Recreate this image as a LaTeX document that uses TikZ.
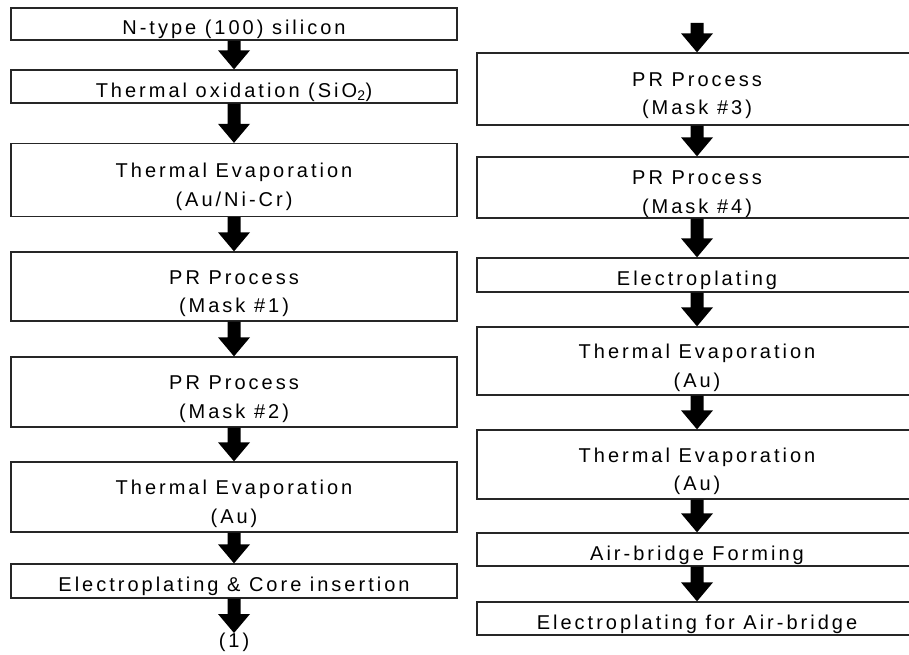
\documentclass[tikz,border=0pt]{standalone}
\usepackage{fontspec}
\setmainfont[LetterSpace=15]{Liberation Sans}
\usetikzlibrary{calc}
\tikzset{
  stepbox/.style={draw=black!85, line width=1.3pt, inner sep=0pt,
    font=\fontsize{20}{28}\selectfont},
  lbox/.style={stepbox, minimum width=446pt},
  rbox/.style={stepbox, minimum width=440pt},
  oneline/.style={text height=21.3pt, text depth=0pt},
  txt/.style={inner sep=0pt, font=\fontsize{20}{28}\selectfont, anchor=base},
  endlabel/.style={inner sep=0pt, font=\fontsize{20}{28}\selectfont},
}
\newcommand\blockarrow[2]{%
  \fill[black] let \p1=(#1), \p2=(#2) in
    (\x1-6.5pt,\y1) -- (\x1-6.5pt,\y2+19pt) -- (\x1-16pt,\y2+19pt) --
    (\x1,\y2) -- (\x1+16pt,\y2+19pt) -- (\x1+6.5pt,\y2+19pt) --
    (\x1+6.5pt,\y1) -- cycle;}
\begin{document}
\begin{tikzpicture}[x=1pt,y=-1pt]
\useasboundingbox (0,0) rectangle (909,655);
% left column
\node[lbox,oneline,minimum height=32pt] (L1) at (234,24) {N-type (100) silicon};
\node[lbox,oneline,minimum height=33pt] (L2) at (234,86.5) {Thermal oxidation (SiO\textsubscript{2})};
\node[lbox,minimum height=73pt] (L3) at (234,180) {};
\node[txt] (L3a) at ([yshift=2.5pt]L3.center) {Thermal Evaporation};
\node[txt] (L3b) at ([yshift=-26pt]L3.center) {(Au/Ni-Cr)};
\node[lbox,minimum height=69pt] (L4) at (234,286.5) {};
\node[txt] (L4a) at ([yshift=2.5pt]L4.center) {PR Process};
\node[txt] (L4b) at ([yshift=-26pt]L4.center) {(Mask \#1)};
\node[lbox,minimum height=70pt] (L5) at (234,392) {};
\node[txt] (L5a) at ([yshift=2.5pt]L5.center) {PR Process};
\node[txt] (L5b) at ([yshift=-26pt]L5.center) {(Mask \#2)};
\node[lbox,minimum height=70pt] (L6) at (234,497) {};
\node[txt] (L6a) at ([yshift=2.5pt]L6.center) {Thermal Evaporation};
\node[txt] (L6b) at ([yshift=-26pt]L6.center) {(Au)};
\node[lbox,oneline,minimum height=34pt] (L7) at (234,581) {Electroplating \& Core insertion};
\node[endlabel,anchor=north] (E1) at (234,633) {(1)};
% right column
\coordinate (Rtop) at (697,23);
\node[rbox,minimum height=72pt] (R1) at (697,89) {};
\node[txt] (R1a) at ([yshift=2.5pt]R1.center) {PR Process};
\node[txt] (R1b) at ([yshift=-26pt]R1.center) {(Mask \#3)};
\node[rbox,minimum height=61pt] (R2) at (697,187.5) {};
\node[txt] (R2a) at ([yshift=2.5pt]R2.center) {PR Process};
\node[txt] (R2b) at ([yshift=-26pt]R2.center) {(Mask \#4)};
\node[rbox,oneline,minimum height=34pt] (R3) at (697,275) {Electroplating};
\node[rbox,minimum height=68pt] (R4) at (697,361) {};
\node[txt] (R4a) at ([yshift=2.5pt]R4.center) {Thermal Evaporation};
\node[txt] (R4b) at ([yshift=-26pt]R4.center) {(Au)};
\node[rbox,minimum height=69pt] (R5) at (697,464.5) {};
\node[txt] (R5a) at ([yshift=2.5pt]R5.center) {Thermal Evaporation};
\node[txt] (R5b) at ([yshift=-26pt]R5.center) {(Au)};
\node[rbox,oneline,minimum height=33pt] (R6) at (697,549.5) {Air-bridge Forming};
\node[rbox,oneline,minimum height=33pt] (R7) at (697,618.5) {Electroplating for Air-bridge};
% arrows
\blockarrow{L1.south}{L2.north}
\blockarrow{L2.south}{L3.north}
\blockarrow{L3.south}{L4.north}
\blockarrow{L4.south}{L5.north}
\blockarrow{L5.south}{L6.north}
\blockarrow{L6.south}{L7.north}
\blockarrow{L7.south}{E1.north}
\blockarrow{Rtop}{R1.north}
\blockarrow{R1.south}{R2.north}
\blockarrow{R2.south}{R3.north}
\blockarrow{R3.south}{R4.north}
\blockarrow{R4.south}{R5.north}
\blockarrow{R5.south}{R6.north}
\blockarrow{R6.south}{R7.north}
\end{tikzpicture}
\end{document}
